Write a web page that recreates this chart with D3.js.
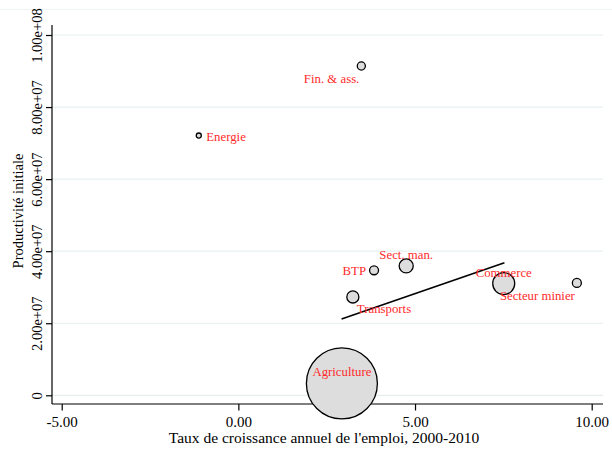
<!DOCTYPE html>
<html><head><meta charset="utf-8">
<script src="https://cdn.jsdelivr.net/npm/d3@7"></script>
<style>body{margin:0;background:#fff}svg{display:block}</style>
</head><body>
<script>
// Data
const sectors = ["Agriculture","Commerce","Sect. man.","Transports","BTP","Secteur minier","Fin. & ass.","Energie"];
const growth = [2.93, 7.51, 4.75, 3.24, 3.84, 9.58, 3.48, -1.12];           // x: taux de croissance annuel (%)
const productivity = [3.3e6, 3.10e7, 3.59e7, 2.73e7, 3.47e7, 3.12e7, 9.14e7, 7.21e7]; // y
const weights = [100, 9.6, 3.9, 2.9, 1.6, 1.6, 1.3, 0.5];                   // bubble weights
const labelClock = [12, 12, 12, 5, 9, 7, 7, 3];
const fitX = [2.92, 7.53];
const fitY = [2.12e7, 3.68e7];
const xTicks = [-5, 0, 5, 10];
const xTickLabels = ["-5.00","0.00","5.00","10.00"];
const yTicks = [0, 2e7, 4e7, 6e7, 8e7, 1e8];
const yTickLabels = ["0","2.00e+07","4.00e+07","6.00e+07","8.00e+07","1.00e+08"];

(function(){
const W = 612, H = 450;
const font = "'Liberation Serif','Times New Roman',serif";
const svg = d3.select("body").append("svg").attr("width", W).attr("height", H)
  .style("font-family", font);

const x = d3.scaleLinear().domain([-5, 10]).range([61.7, 591.7]);
const y = d3.scaleLinear().domain([0, 1e8]).range([395.3, 35]);
const r = d3.scaleSqrt().domain([0, 100]).range([0, 35.5]);

const pl = 52, pr = 603, pt = 25, pb = 404;

// faint outer line
svg.append("line").attr("x1",0).attr("x2",W).attr("y1",9.5).attr("y2",9.5)
  .attr("stroke","#eef3f3").attr("stroke-width",1);

// gridlines
svg.append("g").selectAll("line").data(yTicks).join("line")
  .attr("x1", pl).attr("x2", pr)
  .attr("y1", d => y(d)).attr("y2", d => y(d))
  .attr("stroke", "#e6eff0").attr("stroke-width", 1.2);

// Y axis
const yAxis = d3.axisLeft(y).tickValues(yTicks).tickSize(6).tickPadding(6)
  .tickFormat((d,i) => yTickLabels[i]);
const gy = svg.append("g").attr("transform", `translate(${pl},0)`).call(yAxis);
gy.select(".domain").remove();
gy.append("line").attr("x1",0).attr("x2",0).attr("y1",pt).attr("y2",pb).attr("stroke","#000").attr("stroke-width",1.2);
gy.selectAll(".tick line").attr("stroke","#000").attr("stroke-width",1.2);
gy.selectAll(".tick text")
  .attr("x", null).attr("dy", null)
  .attr("transform", "translate(-10.5,0) rotate(-90)")
  .attr("text-anchor", "middle")
  .attr("fill","#000")
  .style("font-family", font).style("font-size","14.5px");

// X axis
const xAxis = d3.axisBottom(x).tickValues(xTicks).tickSize(6.5).tickPadding(5.5)
  .tickFormat((d,i) => xTickLabels[i]);
const gx = svg.append("g").attr("transform", `translate(0,${pb})`).call(xAxis);
gx.select(".domain").remove();
gx.append("line").attr("x1",pl).attr("x2",pr).attr("y1",0).attr("y2",0).attr("stroke","#000").attr("stroke-width",1.2);
gx.selectAll(".tick line").attr("stroke","#000").attr("stroke-width",1.2);
gx.selectAll(".tick text").attr("fill","#000").style("font-family", font).style("font-size","15px");

// Axis titles
svg.append("text").attr("x", 324).attr("y", 443).attr("text-anchor","middle")
  .style("font-size","15.5px").text("Taux de croissance annuel de l'emploi, 2000-2010");
svg.append("text").attr("transform","translate(23,211) rotate(-90)").attr("text-anchor","middle")
  .style("font-size","14.5px").text("Productivité initiale");

const data = sectors.map((s,i) => ({s, gx: growth[i], p: productivity[i], w: weights[i], c: labelClock[i]}));

// bubbles
svg.append("g").selectAll("circle").data(data).join("circle")
  .attr("cx", d => x(d.gx)).attr("cy", d => y(d.p)).attr("r", d => r(d.w))
  .attr("fill", "#dddddd").attr("stroke", "#000").attr("stroke-width", 1.3);

// fit line
svg.append("line")
  .attr("x1", x(fitX[0])).attr("y1", y(fitY[0]))
  .attr("x2", x(fitX[1])).attr("y2", y(fitY[1]))
  .attr("stroke","#000").attr("stroke-width",1.6);

// labels
const off = {12:[0,-7,"middle"], 3:[7.5,5,"start"], 9:[-8,4.5,"end"], 5:[4,16.5,"start"], 7:[-2,17,"end"]};
svg.append("g").selectAll("text").data(data).join("text")
  .attr("x", d => x(d.gx) + off[d.c][0])
  .attr("y", d => y(d.p) + off[d.c][1])
  .attr("text-anchor", d => off[d.c][2])
  .attr("fill", "#ff2b2b").style("font-size","12.8px")
  .text(d => d.s);
})();
</script>
</body></html>
